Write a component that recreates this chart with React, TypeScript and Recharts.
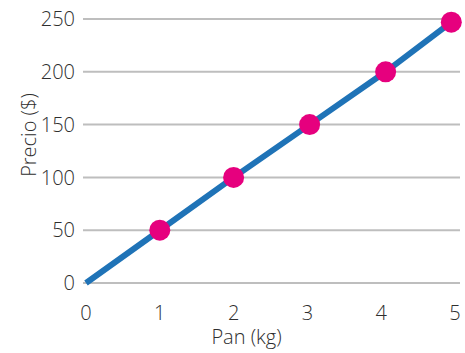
import React from "react";
import { LineChart, Line, XAxis, YAxis, CartesianGrid, Label } from "recharts";

const panKg = [0, 1, 2, 3.03, 4.06, 4.95];
const precio = [0, 50, 100, 150, 200, 247];
const xTicks = [0, 1, 2, 3, 4, 5];
const yTicks = [0, 50, 100, 150, 200, 250];

const data = panKg.map((kg, i) => ({ kg, precio: precio[i] }));

const FONT = "'Open Sans', sans-serif";
const TEXT = "#2e2e2e";
const WEIGHT = 300;

const Dot = (props: any) => {
  const { cx, cy, index } = props;
  if (index === 0) return <g key={`d${index}`} />;
  return <circle key={`d${index}`} cx={cx} cy={cy} r={10.5} fill="#E6007E" stroke="none" />;
};

export default function App() {
  return (
    <div style={{ position: "absolute", left: 0, top: 0, background: "#fff" }}>
      <LineChart
        width={465}
        height={353}
        data={data}
        margin={{ top: 19, right: 5, bottom: 0, left: 0 }}
      >
        <CartesianGrid vertical={false} stroke="#BEBEBE" strokeWidth={2} />
        <XAxis
          dataKey="kg"
          type="number"
          domain={[0, 5]}
          ticks={xTicks}
          axisLine={false}
          tickLine={false}
          tickMargin={17}
          height={70}
          padding={{ left: 3, right: 5 }}
          tick={{ fill: TEXT, fontSize: 20, fontFamily: FONT, fontWeight: WEIGHT }}
        >
          <Label
            content={(p: any) => {
              const vb = p.viewBox;
              return (
                <text
                  x={vb.x + vb.width / 2 - 25}
                  y={vb.y + 61}
                  textAnchor="middle"
                  fill={TEXT}
                  fontSize={20}
                  fontWeight={WEIGHT}
                  fontFamily={FONT}
                >
                  Pan (kg)
                </text>
              );
            }}
          />
        </XAxis>
        <YAxis
          type="number"
          domain={[0, 250]}
          ticks={yTicks}
          axisLine={false}
          tickLine={false}
          width={83}
          tick={{ fill: TEXT, fontSize: 20, fontFamily: FONT, fontWeight: WEIGHT }}
        >
          <Label
            content={(p: any) => {
              const vb = p.viewBox;
              const x = vb.x + 36;
              const y = vb.y + vb.height / 2 - 16;
              return (
                <text
                  x={x}
                  y={y}
                  transform={`rotate(-90 ${x} ${y})`}
                  textAnchor="middle"
                  fill={TEXT}
                  fontSize={20}
                  fontWeight={WEIGHT}
                  fontFamily={FONT}
                >
                  Precio ($)
                </text>
              );
            }}
          />
        </YAxis>
        <Line
          type="linear"
          dataKey="precio"
          stroke="#1F73B7"
          strokeWidth={6}
          dot={Dot}
          activeDot={false}
          isAnimationActive={false}
        />
      </LineChart>
    </div>
  );
}
